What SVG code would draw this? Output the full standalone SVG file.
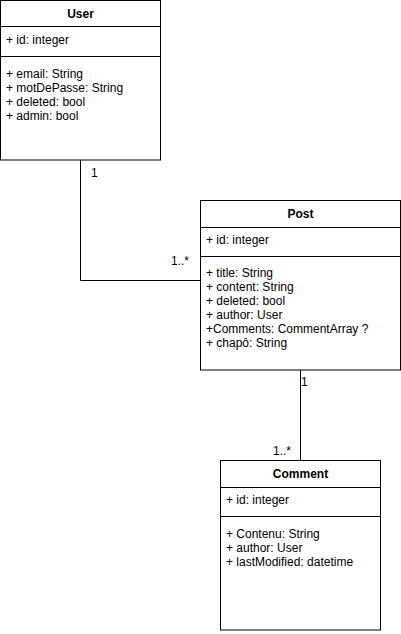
<svg xmlns="http://www.w3.org/2000/svg" width="401" height="634" viewBox="0 0 401 634">
  <style>
    .box { fill: #fff; stroke: #000; stroke-width: 1; }
    .sep { stroke: #000; stroke-width: 1; fill: none; }
    .title { font-family: "Liberation Sans", Arial, sans-serif; font-size: 12px; font-weight: bold; text-anchor: middle; fill: #000; }
    .attr { font-family: "Liberation Sans", Arial, sans-serif; font-size: 12px; fill: #000; }
    .edge { stroke: #000; stroke-width: 1; fill: none; }
    .mult { font-family: "Liberation Sans", Arial, sans-serif; font-size: 12px; fill: #000; }
  </style>
  <rect width="401" height="634" fill="#fff"/>

  <!-- associations -->
  <g id="connectors">
    <path class="edge" d="M80.5 160 V280.5 H200"/>
    <text class="mult" x="91" y="177">1</text>
    <text class="mult" x="171" y="265">1..*</text>
    <path class="edge" d="M300.5 370 V460"/>
    <text class="mult" x="301" y="386">1</text>
    <text class="mult" x="273" y="455">1..*</text>
  </g>

  <!-- User class -->
  <g id="user">
    <rect class="box" x="0.5" y="0.5" width="160" height="159.5"/>
    <line class="sep" x1="0.5" y1="26.5" x2="160.5" y2="26.5"/>
    <line class="sep" x1="0.5" y1="56.5" x2="160.5" y2="56.5"/>
    <text class="title" x="80.5" y="18">User</text>
    <text class="attr" x="6" y="44">+ id: integer</text>
    <text class="attr" x="6" y="78">+ email: String</text>
    <text class="attr" x="6" y="92">+ motDePasse: String</text>
    <text class="attr" x="6" y="106">+ deleted: bool</text>
    <text class="attr" x="6" y="120">+ admin: bool</text>
  </g>

  <!-- Post class -->
  <g id="post">
    <rect class="box" x="200.5" y="200.5" width="200" height="169.5"/>
    <line class="sep" x1="200.5" y1="227.5" x2="400.5" y2="227.5"/>
    <line class="sep" x1="200.5" y1="256.5" x2="400.5" y2="256.5"/>
    <text class="title" x="300.5" y="218">Post</text>
    <text class="attr" x="206" y="244">+ id: integer</text>
    <text class="attr" x="206" y="277">+ title: String</text>
    <text class="attr" x="206" y="291">+ content: String</text>
    <text class="attr" x="206" y="305">+ deleted: bool</text>
    <text class="attr" x="206" y="319">+ author: User</text>
    <text class="attr" x="206" y="333">+Comments: CommentArray ?</text>
    <text class="attr" x="206" y="347">+ chapô: String</text>
  </g>

  <!-- Comment class -->
  <g id="comment">
    <rect class="box" x="220.5" y="460.5" width="160" height="169.5"/>
    <line class="sep" x1="220.5" y1="487.5" x2="380.5" y2="487.5"/>
    <line class="sep" x1="220.5" y1="516.5" x2="380.5" y2="516.5"/>
    <text class="title" x="300.5" y="478">Comment</text>
    <text class="attr" x="226" y="504">+ id: integer</text>
    <text class="attr" x="226" y="538">+ Contenu: String</text>
    <text class="attr" x="226" y="552">+ author: User</text>
    <text class="attr" x="226" y="566">+ lastModified: datetime</text>
  </g>
</svg>
